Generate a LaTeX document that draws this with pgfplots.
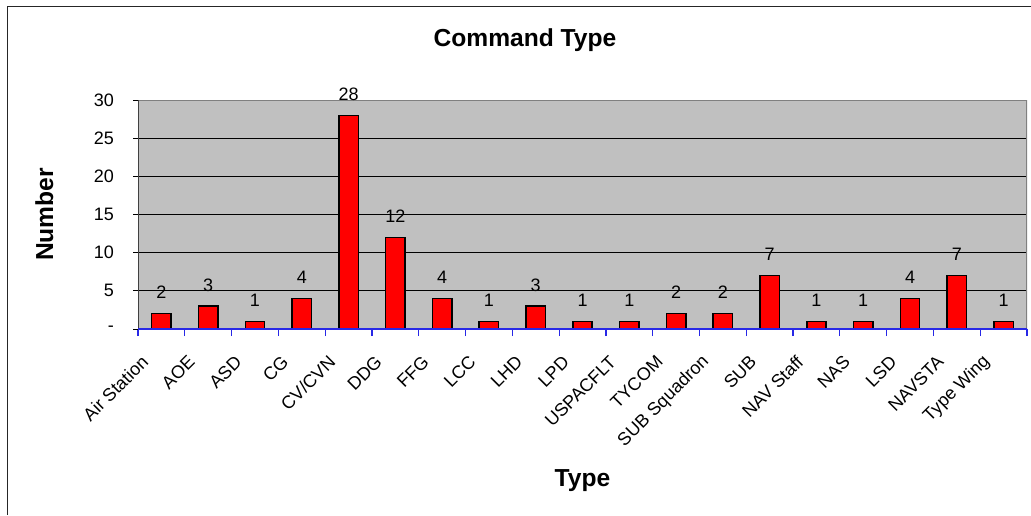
\documentclass[border=0pt]{standalone}
\usepackage{pgfplots}
\pgfplotsset{compat=1.18}
\usepackage{fontspec}
\setmainfont{Liberation Sans}
\definecolor{plotgray}{RGB}{192,192,192}
\definecolor{framegray}{RGB}{128,128,128}
\definecolor{axblue}{RGB}{40,40,230}
\begin{document}
\begin{tikzpicture}
\path[use as bounding box] (0,0) rectangle (515.5pt,-257.5pt);
\draw[line width=0.9pt, black!85] (3.75pt,-257.5pt) -- (3.75pt,-3.25pt) -- (515.5pt,-3.25pt);
\begin{axis}[
  at={(69pt,-164.5pt)}, anchor=south west,
  width=444.5pt, height=114.5pt, scale only axis,
  /pgf/number format/assume math mode=true,
  xmin=-0.5, xmax=18.5, ymin=0, ymax=30,
  axis line style={draw=none},
  axis background/.style={fill=plotgray},
  tick align=outside,
  xtick pos=lower, ytick pos=left,
  xtick={0,...,18},
  xticklabels={Air Station,AOE,ASD,CG,CV/CVN,DDG,FFG,LCC,LHD,LPD,USPACFLT,TYCOM,SUB Squadron,SUB,NAV Staff,NAS,LSD,NAVSTA,Type Wing},
  minor xtick={-0.5,0.5,...,18.5},
  major x tick style={draw=none},
  minor x tick style={draw=axblue, line width=0.6pt},
  minor tick length=3.5pt,
  major tick length=2.5pt,
  ytick={0,5,10,15,20,25,30},
  yticklabels={-\hspace{9.5pt},5,10,15,20,25,30},
  major y tick style={draw=black, line width=0.5pt},
  ymajorgrids, grid style={black, line width=0.5pt},
  tick label style={font=\fontsize{9}{10}\selectfont},
  xticklabel style={xshift=-5.8pt, yshift=-10pt, rotate=45, anchor=east},
  yticklabel style={xshift=-6pt},
  nodes near coords,
  every node near coord/.append style={font=\fontsize{9}{10}\selectfont, anchor=south, inner sep=0pt, yshift=7pt, black},
]
\addplot[ybar, bar width=9.7pt, fill=red, draw=black, line width=0.75pt] coordinates {
(0,2) (1,3) (2,1) (3,4) (4,28) (5,12) (6,4) (7,1) (8,3) (9,1) (10,1) (11,2) (12,2) (13,7) (14,1) (15,1) (16,4) (17,7) (18,1)};
\draw[framegray, line width=0.8pt] (rel axis cs:0,1) -- (rel axis cs:1,1) -- (rel axis cs:1,0);
\draw[black!75, line width=0.6pt] (rel axis cs:0,0) -- (rel axis cs:0,1);
\draw[axblue, line width=0.6pt] (rel axis cs:0,0) -- (rel axis cs:1,0);
\end{axis}
\node[font=\bfseries\fontsize{12.3}{14}\selectfont, anchor=base] at (262.5pt,-23pt) {Command Type};
\node[font=\bfseries\fontsize{12.3}{14}\selectfont, anchor=base, rotate=90] at (26.5pt,-107.25pt) {Number};
\node[font=\bfseries\fontsize{12.3}{14}\selectfont, anchor=base] at (291.25pt,-243pt) {Type};
\end{tikzpicture}
\end{document}
